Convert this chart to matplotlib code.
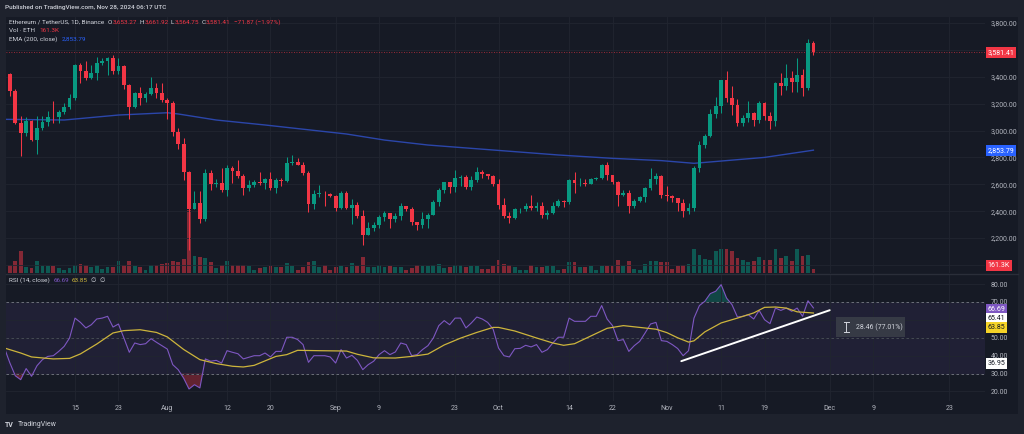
import numpy as np
import pandas as pd
import matplotlib
matplotlib.use("Agg")
import matplotlib.pyplot as plt
import matplotlib.dates as mdates
import matplotlib.transforms as mtransforms
from matplotlib.patches import Rectangle
from matplotlib.lines import Line2D

# ETH / USDT daily candles (Binance), 2 Jul - 28 Nov 2024
start_date = "2024-07-02"
first_open = 3441.0

closes = [
    3420, 3294, 3056, 2980, 3067, 2930, 3019, 3066, 3101, 3098, 3134, 3175, 3245, 3485, 3443,
    3388, 3425, 3505, 3518, 3537, 3440, 3480, 3337, 3174, 3276, 3245, 3271, 3318, 3281, 3230,
    3206, 2987, 2902, 2688, 2419, 2460, 2339, 2684, 2600, 2609, 2556, 2721, 2701, 2663, 2569, 2593,
    2616, 2612, 2636, 2573, 2630, 2622, 2762, 2768, 2746, 2681, 2456, 2527, 2528, 2525, 2513,
    2425, 2538, 2423, 2449, 2368, 2224, 2272, 2297, 2359, 2387, 2340, 2361, 2437, 2418, 2316,
    2295, 2341, 2374, 2467, 2561, 2614, 2581, 2646, 2653, 2580, 2632, 2695, 2676, 2658, 2603,
    2447, 2364, 2349, 2414, 2415, 2440, 2422, 2440, 2371, 2384, 2436, 2476, 2466, 2629, 2606, 2611,
    2605, 2641, 2644, 2747, 2667, 2620, 2523, 2535, 2440, 2477, 2505, 2569, 2639, 2660, 2519,
    2513, 2495, 2459, 2398, 2423, 2721, 2895, 2962, 3126, 3183, 3372, 3244, 3187, 3058, 3092,
    3133, 3075, 3207, 3108, 3071, 3356, 3328, 3392, 3362, 3413, 3319, 3653.27, 3581.41,
]
highs = [
    3464, 3430, 3309, 3108, 3100, 3075, 3110, 3110, 3145, 3220, 3155, 3205, 3275, 3498, 3500,
    3517, 3490, 3543, 3540, 3546, 3563, 3541, 3490, 3345, 3288, 3327, 3288, 3396, 3350, 3350,
    3238, 3220, 3015, 2945, 2700, 2553, 2550, 2715, 2705, 2643, 2722, 2740, 2737, 2780, 2680, 2634,
    2630, 2690, 2650, 2695, 2645, 2646, 2800, 2820, 2792, 2765, 2700, 2555, 2598, 2550, 2536,
    2520, 2550, 2552, 2490, 2465, 2406, 2316, 2319, 2370, 2400, 2390, 2390, 2460, 2440, 2430,
    2320, 2393, 2390, 2485, 2570, 2619, 2615, 2703, 2672, 2670, 2660, 2728, 2705, 2680, 2670,
    2642, 2500, 2392, 2426, 2424, 2459, 2521, 2465, 2470, 2410, 2465, 2488, 2485, 2639, 2689, 2645,
    2640, 2650, 2655, 2752, 2769, 2670, 2625, 2560, 2560, 2491, 2510, 2579, 2722, 2683, 2670,
    2586, 2521, 2496, 2488, 2461, 2735, 2919, 2975, 3160, 3250, 3376, 3446, 3330, 3236, 3118,
    3220, 3140, 3220, 3215, 3136, 3364, 3428, 3497, 3445, 3540, 3460, 3684, 3661.92,
]
lows = [
    3405, 3257, 3050, 2810, 2960, 2920, 2822, 3005, 3035, 3053, 3055, 3120, 3160, 3230, 3350,
    3375, 3380, 3375, 3485, 3410, 3420, 3420, 3306, 3087, 3165, 3190, 3210, 3265, 3245, 3210,
    3085, 2960, 2865, 2632, 2111, 2415, 2310, 2327, 2560, 2582, 2545, 2512, 2610, 2645, 2520, 2550,
    2583, 2598, 2565, 2560, 2535, 2586, 2615, 2745, 2740, 2668, 2392, 2420, 2503, 2438, 2502,
    2403, 2420, 2413, 2306, 2350, 2150, 2220, 2255, 2272, 2326, 2278, 2323, 2333, 2403, 2300,
    2262, 2276, 2275, 2370, 2441, 2535, 2537, 2540, 2590, 2567, 2560, 2614, 2650, 2636, 2586,
    2414, 2349, 2311, 2345, 2385, 2400, 2412, 2400, 2352, 2340, 2380, 2430, 2430, 2450, 2536, 2590,
    2585, 2600, 2630, 2637, 2630, 2602, 2441, 2510, 2386, 2427, 2465, 2468, 2560, 2600, 2501,
    2478, 2470, 2400, 2357, 2380, 2405, 2695, 2872, 2950, 3095, 3130, 3214, 3116, 3030, 3036,
    3066, 3030, 3055, 3080, 3011, 3030, 3262, 3300, 3285, 3289, 3254, 3300, 3564.75,
]
# volume in thousands of ETH
volumes = [
    124, 289, 439, 836, 214, 176, 461, 274, 251, 274, 188, 113, 176, 289, 349,
    289, 236, 289, 150, 214, 214, 461, 289, 461, 251, 214, 113, 311, 289, 338,
    375, 450, 413, 525, 2363, 626, 589, 551, 413, 188, 289, 461, 311, 311, 311, 251,
    113, 188, 225, 274, 225, 214, 375, 251, 113, 225, 401, 439, 236, 311, 124,
    214, 251, 214, 375, 274, 600, 214, 214, 311, 214, 274, 236, 236, 124, 188,
    311, 274, 274, 311, 338, 176, 225, 311, 311, 225, 274, 274, 150, 150, 274,
    476, 338, 289, 236, 124, 124, 289, 214, 225, 251, 251, 124, 150, 413, 401, 225,
    225, 274, 124, 251, 274, 274, 476, 251, 450, 150, 124, 338, 439, 439, 401,
    401, 150, 274, 289, 338, 911, 686, 536, 476, 814, 911, 900, 836, 563, 476,
    401, 439, 589, 476, 476, 900, 563, 649, 439, 900, 626, 686, 161.3,
]
rsi_values = [
    44.3, 36.0, 28.8, 26.6, 32.8, 28.5, 34.4, 37.8, 39.6, 40.0, 42.4, 45.2, 49.9, 61.0, 58.6,
    55.5, 57.3, 60.5, 61.0, 62.0, 56.0, 57.7, 49.9, 41.9, 47.1, 46.2, 46.7, 49.5, 47.5, 45.6,
    43.7, 35.0, 32.2, 27.5, 21.4, 23.8, 22.0, 38.2, 36.9, 37.4, 35.9, 42.8, 41.9, 41.1, 38.2, 39.1,
    40.0, 40.0, 41.5, 39.3, 42.4, 42.4, 50.3, 50.3, 49.0, 46.2, 36.3, 40.0, 40.0, 40.0, 39.3,
    35.9, 43.4, 38.7, 40.2, 37.4, 32.2, 35.0, 36.9, 40.6, 42.8, 40.6, 42.1, 47.1, 46.2, 40.0,
    40.6, 43.4, 45.6, 49.9, 56.8, 59.6, 57.3, 61.0, 61.0, 55.5, 58.3, 61.6, 60.5, 58.6, 54.9,
    44.3, 40.0, 39.3, 43.9, 44.1, 45.8, 44.9, 46.2, 41.9, 43.4, 47.1, 50.3, 50.3, 61.0, 59.2, 59.2,
    59.2, 62.0, 62.0, 68.0, 60.5, 56.8, 48.4, 49.0, 42.4, 45.6, 48.0, 52.7, 57.7, 58.6, 48.4,
    48.0, 46.2, 44.0, 40.0, 42.8, 61.0, 68.0, 70.4, 74.7, 76.0, 79.7, 72.2, 68.5, 61.6, 62.0,
    62.9, 60.5, 65.3, 60.1, 57.9, 66.6, 65.3, 66.6, 64.8, 66.6, 62.0, 70.7, 66.69,
]

# RSI-based moving average (yellow), read at points along the curve
rsi_ma_dates = [
    "2024-07-02", "2024-07-05", "2024-07-07", "2024-07-11", "2024-07-14", "2024-07-16",
    "2024-07-19", "2024-07-22", "2024-07-24", "2024-07-27", "2024-07-30", "2024-08-01",
    "2024-08-04", "2024-08-07", "2024-08-10", "2024-08-13", "2024-08-15", "2024-08-17",
    "2024-08-21", "2024-08-23", "2024-08-25", "2024-08-29", "2024-09-03", "2024-09-05",
    "2024-09-08", "2024-09-12", "2024-09-15", "2024-09-18", "2024-09-21", "2024-09-24",
    "2024-09-27", "2024-09-30", "2024-10-01", "2024-10-04", "2024-10-08", "2024-10-11",
    "2024-10-13", "2024-10-15", "2024-10-18", "2024-10-21", "2024-10-24", "2024-10-27",
    "2024-10-30", "2024-11-01", "2024-11-03", "2024-11-05", "2024-11-06", "2024-11-08",
    "2024-11-11", "2024-11-14", "2024-11-17", "2024-11-19", "2024-11-21", "2024-11-23",
    "2024-11-25", "2024-11-28",
]
rsi_ma_values = [
    44.3, 41.5, 39.3, 38.2, 38.5, 41.0, 46.5, 52.7, 54.0, 54.5, 53.0, 50.5,
    43.5, 37.8, 35.6, 34.1, 33.7, 34.6, 39.6, 40.6, 43.0, 42.8, 42.6, 40.8,
    38.8, 38.7, 39.6, 40.9, 46.0, 49.8, 53.0, 55.8, 55.8, 53.8, 49.9, 47.1,
    45.8, 46.7, 51.0, 55.3, 56.8, 55.8, 54.8, 52.9, 50.0, 47.6, 48.3, 53.3,
    58.3, 61.0, 63.9, 67.0, 67.2, 66.6, 64.5, 63.85,
]

# EMA 200 (blue), read at points along the curve
ema_dates = [
    "2024-07-02", "2024-07-13", "2024-07-23", "2024-08-01", "2024-08-03", "2024-08-10",
    "2024-08-19", "2024-09-03", "2024-09-10", "2024-09-18", "2024-09-30", "2024-10-12",
    "2024-10-22", "2024-10-31", "2024-11-06", "2024-11-19", "2024-11-28",
]
ema_values = [
    3083, 3078, 3115, 3132, 3123, 3078, 3041, 2974, 2929, 2892, 2855, 2818,
    2793, 2776, 2756, 2800, 2853.79,
]

# white trend line drawn on the RSI
trend_dates = ["2024-11-03 16:00", "2024-12-01 00:00"]
trend_values = [36.95, 65.41]

tick_dates = ["2024-07-15", "2024-07-23", "2024-08-01", "2024-08-12", "2024-08-20", "2024-09-01",
              "2024-09-09", "2024-09-23", "2024-10-01", "2024-10-14", "2024-10-22", "2024-11-01",
              "2024-11-11", "2024-11-19", "2024-12-01", "2024-12-09", "2024-12-23"]
tick_labels = ["15", "23", "Aug", "12", "20", "Sep", "9", "23", "Oct", "14", "22", "Nov",
               "11", "19", "Dec", "9", "23"]
price_ticks = [2000, 2200, 2400, 2600, 2800, 3000, 3200, 3400, 3600, 3800]
rsi_ticks = [20, 30, 40, 50, 60, 70, 80]
# axis labels that sit fully under the last-value boxes are left out
hidden_price = [2000, 3600]
hidden_rsi = [60]

# colours
BG_OUTER = "#1e222d"
BG_PANEL = "#161a25"
GRID = "#212530"
TEXT = "#d1d4dc"
AXIS_TEXT = "#b2b5be"
UP = "#089981"
DOWN = "#f23645"
EMA_COLOR = "#2b46aa"
RSI_COLOR = "#7e57c2"
MA_COLOR = "#cdb53c"

plt.rcParams["font.family"] = ["Roboto", "DejaVu Sans"]

W, H = 1024, 434


def fx(px):
    return px / W


def fy(py):
    return 1 - py / H


def text_row(fig, renderer, x_px, y_px, parts, size=4.6):
    # write coloured pieces one after another on the same line
    x0 = x_px
    for s, c, gap in parts:
        t = fig.text(fx(x0), fy(y_px), s, color=c, fontsize=size, va="center", ha="left")
        x0 += t.get_window_extent(renderer).width + gap


def value_box(axis, y, text, face, color, transform):
    axis.text(1.0025, y, text, transform=transform, fontsize=5, color=color, va="center",
              ha="left", clip_on=False, zorder=10,
              bbox=dict(boxstyle="square,pad=0.28", facecolor=face, edgecolor="none"))


def main():
    fig = plt.figure(figsize=(W / 100, H / 100), dpi=100, facecolor=BG_OUTER)
    fig.patches.append(Rectangle((fx(6), fy(414)), fx(1018) - fx(6), fy(17) - fy(414),
                                 transform=fig.transFigure, facecolor=BG_PANEL,
                                 edgecolor="none", zorder=-1))

    price_rect = [fx(6), fy(273), fx(985) - fx(6), fy(17) - fy(273)]
    rsi_rect = [fx(6), fy(401), fx(985) - fx(6), fy(275) - fy(401)]
    ax_vol = fig.add_axes(price_rect)
    ax = fig.add_axes(price_rect, sharex=ax_vol)
    ax_rsi = fig.add_axes(rsi_rect, sharex=ax_vol)
    for a in (ax_vol, ax, ax_rsi):
        a.set_facecolor("none")
        for s in a.spines.values():
            s.set_visible(False)

    x = mdates.date2num(pd.date_range(start_date, periods=len(closes), freq="D"))
    c = np.array(closes, dtype=float)
    o = np.array([first_open] + closes[:-1], dtype=float)
    colors = np.where(c >= o, UP, DOWN)

    x0 = mdates.date2num(pd.Timestamp(start_date))
    ax_vol.set_xlim(x0 + 0.29, x0 + 180.6)
    tick_x = mdates.date2num(pd.to_datetime(tick_dates))
    ax_rsi.set_xticks(tick_x, labels=tick_labels)

    # volume bars
    ax_vol.bar(x, volumes, width=0.7, color=colors, alpha=0.5, linewidth=0)
    ax_vol.set_ylim(0, 9600)
    ax_vol.set_yticks([])
    ax_vol.grid(True, axis="x", color=GRID, lw=0.6)
    ax_vol.tick_params(axis="x", length=0, labelbottom=False)

    # candles
    ax.vlines(x, lows, highs, colors=colors, lw=0.75, zorder=3)
    body = np.maximum(np.abs(c - o), 5)
    ax.bar(x, body, bottom=np.minimum(o, c), width=0.7, color=colors, linewidth=0, zorder=4)
    ax.plot(mdates.date2num(pd.to_datetime(ema_dates)), ema_values, color=EMA_COLOR, lw=1.0, zorder=2)
    ax.axhline(closes[-1], color=DOWN, lw=0.6, ls=(0, (1, 2)), alpha=0.8, zorder=1)
    ax.set_ylim(1940.5, 3843.9)
    ax.yaxis.tick_right()
    ax.set_yticks(price_ticks, labels=["" if v in hidden_price else f"{v:,.2f}" for v in price_ticks])
    ax.grid(True, axis="y", color=GRID, lw=0.6)
    ax.tick_params(axis="y", length=0, pad=4, labelsize=5, labelcolor=AXIS_TEXT)
    ax.tick_params(axis="x", length=0, labelbottom=False)

    tr = mtransforms.blended_transform_factory(ax.transAxes, ax.transData)
    value_box(ax, closes[-1], f"{closes[-1]:,.2f}", DOWN, "white", tr)
    value_box(ax, ema_values[-1], f"{ema_values[-1]:,.2f}", "#2962ff", "white", tr)
    value_box(ax, 0.031, f"{volumes[-1]}K", DOWN, "white", ax.transAxes)

    # RSI panel
    rsi = np.array(rsi_values)
    ax_rsi.axhspan(30, 70, color=RSI_COLOR, alpha=0.1, lw=0)
    ax_rsi.axhline(70, color="#787b86", lw=0.6, ls=(0, (3, 3)))
    ax_rsi.axhline(50, color="#787b86", lw=0.6, ls=(0, (3, 3)), alpha=0.5)
    ax_rsi.axhline(30, color="#787b86", lw=0.6, ls=(0, (3, 3)))
    ax_rsi.fill_between(x, 70, rsi, where=rsi > 70, interpolate=True, color=UP, alpha=0.35, lw=0)
    ax_rsi.fill_between(x, 30, rsi, where=rsi < 30, interpolate=True, color=DOWN, alpha=0.35, lw=0)
    ax_rsi.plot(x, rsi, color=RSI_COLOR, lw=0.8)
    ax_rsi.plot(mdates.date2num(pd.to_datetime(rsi_ma_dates)), rsi_ma_values, color=MA_COLOR, lw=0.9)
    ax_rsi.plot(mdates.date2num(pd.to_datetime(trend_dates)), trend_values, color="white", lw=1.4,
                solid_capstyle="round")
    ax_rsi.set_ylim(14.69, 85.08)
    ax_rsi.yaxis.tick_right()
    ax_rsi.set_yticks(rsi_ticks, labels=["" if v in hidden_rsi else f"{v:.2f}" for v in rsi_ticks])
    ax_rsi.grid(True, color=GRID, lw=0.6)
    ax_rsi.tick_params(axis="y", length=0, pad=4, labelsize=5, labelcolor=AXIS_TEXT)
    ax_rsi.tick_params(axis="x", length=0, pad=3, labelsize=5, labelcolor=AXIS_TEXT)

    # stacked last-value boxes, kept just clear of the 70 and 40 labels
    value_box(ax_rsi, 0.724, f"{rsi_values[-1]:.2f}", RSI_COLOR, "white", ax_rsi.transAxes)
    value_box(ax_rsi, 0.655, f"{trend_values[1]:.2f}", "white", "#131722", ax_rsi.transAxes)
    value_box(ax_rsi, 0.586, f"{rsi_ma_values[-1]:.2f}", "#f5d327", "#131722", ax_rsi.transAxes)
    value_box(ax_rsi, 0.298, f"{trend_values[0]:.2f}", "white", "#131722", ax_rsi.transAxes)

    # panel separator
    fig.add_artist(Line2D([fx(6), fx(1018)], [fy(274), fy(274)], color="#2a2e39", lw=1))

    # measure box of the trend line
    fig.patches.append(Rectangle((fx(836), fy(337)), fx(905) - fx(836), fy(317) - fy(337),
                                 transform=fig.transFigure, facecolor="#363a45", edgecolor="none"))
    for xs, ys in (([846, 846], [322, 332]), ([843.5, 848.5], [322, 322]), ([843.5, 848.5], [332, 332])):
        fig.add_artist(Line2D([fx(v) for v in xs], [fy(v) for v in ys], color=TEXT, lw=0.7))
    fig.text(fx(856), fy(327), "28.46 (77.01%)", color=TEXT, fontsize=5, va="center", ha="left")

    # header texts
    renderer = fig.canvas.get_renderer()
    fig.text(fx(5), fy(7.5), "Published on TradingView.com, Nov 28, 2024 06:17 UTC", color=TEXT,
             fontsize=4.6, va="center", ha="left", fontweight="medium")
    text_row(fig, renderer, 9, 22, [
        ("Ethereum / TetherUS, 1D, Binance", TEXT, 3.5),
        ("O", TEXT, 0.3), ("3,653.27", DOWN, 2.5),
        ("H", TEXT, 0.3), ("3,661.92", DOWN, 2.5),
        ("L", TEXT, 0.3), ("3,564.75", DOWN, 2.5),
        ("C", TEXT, 0.3), ("3,581.41", DOWN, 3),
        ("\u221271.87 (\u22121.97%)", DOWN, 0),
    ])
    text_row(fig, renderer, 9, 30.7, [("Vol \u00b7 ETH", TEXT, 4), ("161.3K", DOWN, 0)])
    text_row(fig, renderer, 9, 39, [("EMA (200, close)", TEXT, 4), ("2,853.79", "#2962ff", 0)])
    text_row(fig, renderer, 9, 280, [
        ("RSI (14, close)", TEXT, 3.5), ("66.69", RSI_COLOR, 3), ("63.85", MA_COLOR, 3),
        ("\u2205", TEXT, 3), ("\u2205", TEXT, 0),
    ])

    # footer logo
    fig.text(fx(5), fy(425), "TV", color=TEXT, fontsize=5, fontweight="bold", va="center", ha="left")
    fig.text(fx(18), fy(425), "TradingView", color=TEXT, fontsize=5, va="center", ha="left")

    fig.savefig("out.png", dpi=100, facecolor=BG_OUTER)


if __name__ == "__main__":
    main()
